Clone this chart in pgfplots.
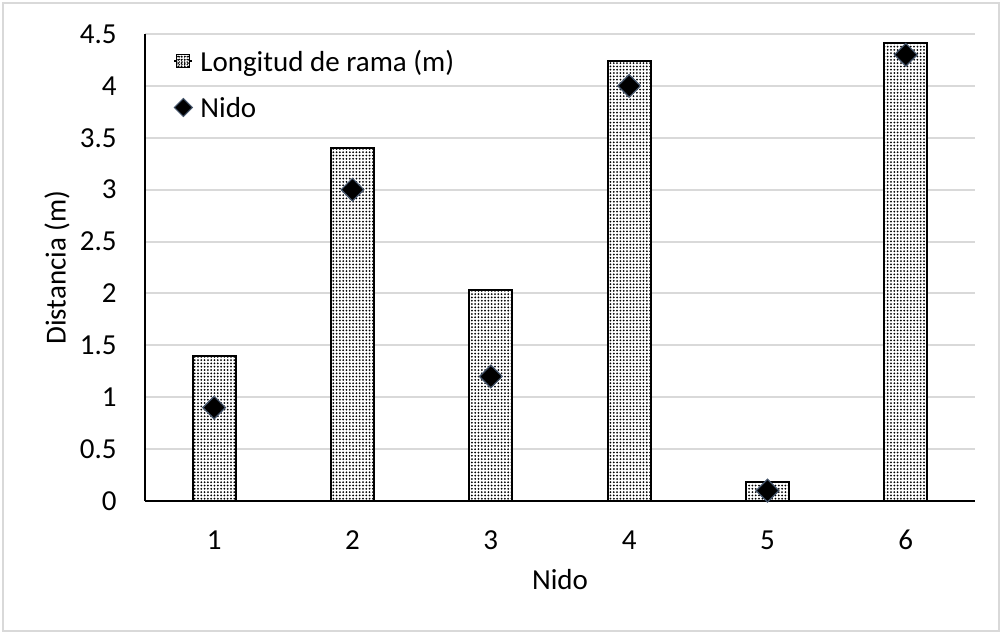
\documentclass[border=0pt]{standalone}
\usepackage{fontspec}
\setmainfont{Carlito}
\usepackage{pgfplots}
\pgfplotsset{compat=1.18}
\usetikzlibrary{patterns.meta}

\definecolor{gridgray}{HTML}{D9D9D9}
\definecolor{markedge}{HTML}{44546A}

\begin{document}
\fontsize{14.5}{17}\selectfont
\begin{tikzpicture}
  % chart area with its light frame
  \useasboundingbox (-72.5pt,-66.5pt) rectangle (428.5pt,250.5pt);
  \draw[gridgray, line width=1pt, fill=white] (-71pt,-65pt) rectangle (427pt,249pt);
  \begin{axis}[
    at={(0pt,0pt)}, anchor=south west,
    scale only axis, width=415pt, height=233.5pt,
    xmin=0.5, xmax=6.5, ymin=0, ymax=4.5,
    xtick={1,2,3,4,5,6},
    ytick={0,0.5,1,1.5,2,2.5,3,3.5,4,4.5},
    axis lines*=left,
    axis line style={black, line width=1pt},
    ymajorgrids, grid style={gridgray, line width=1pt},
    major tick length=0pt,
    /pgf/number format/assume math mode=true,
    tick label style={font=\fontsize{14.5}{17}\selectfont},
    yticklabel style={inner sep=0pt, anchor=east, xshift=-14pt},
    xticklabel style={inner sep=0pt, anchor=north, yshift=-14.5pt},
    xlabel={Nido}, ylabel={Distancia (m)},
    label style={font=\fontsize{14.5}{17}\selectfont},
    xlabel style={at={(axis description cs:0.5,-0.169)}, anchor=center},
    ylabel style={at={(axis description cs:-0.106,0.5)}, anchor=center},
    legend cell align=left,
    legend style={at={(axis description cs:0,1)}, anchor=north west,
      xshift=14pt, yshift=-8.35pt, draw=none, fill=none, inner sep=0pt,
      row sep=10.2pt, column sep=3.5pt,
      font=\fontsize{14.5}{17}\selectfont,
      nodes={inner sep=0pt, text height=10pt, text depth=3pt}},
  ]
    % branch length per nest
    \addplot[ybar, bar width=21.5pt, bar shift=0pt, draw=black, line width=1pt,
      fill=white, postaction={pattern={Dots[distance=1.65pt, radius=0.5pt]}},
      legend image code/.code={
        \path (0pt,1.5pt) -- (9pt,1.5pt);
        \draw[black, line width=0.6pt, fill=white,
          postaction={pattern={Dots[distance=1.3pt, radius=0.4pt]}}]
          (1.25pt,-1.75pt) rectangle (7.75pt,4.75pt);}]
      coordinates {(1,1.40) (2,3.40) (3,2.03) (4,4.24) (5,0.18) (6,4.41)};
    \addlegendentry{Longitud de rama (m)}
    % nest position along the branch
    \addplot[only marks, mark=square*, mark size=4pt,
      mark options={rotate=45, fill=black, draw=markedge, line width=0.6pt},
      legend image code/.code={
        \draw[fill=black, draw=markedge, line width=0.5pt]
          (4.5pt,-3pt) -- (9pt,1.5pt) -- (4.5pt,6pt) -- (0pt,1.5pt) -- cycle;}]
      coordinates {(1,0.90) (2,3.00) (3,1.20) (4,4.00) (5,0.10) (6,4.30)};
    \addlegendentry{Nido}
  \end{axis}
\end{tikzpicture}
\end{document}
